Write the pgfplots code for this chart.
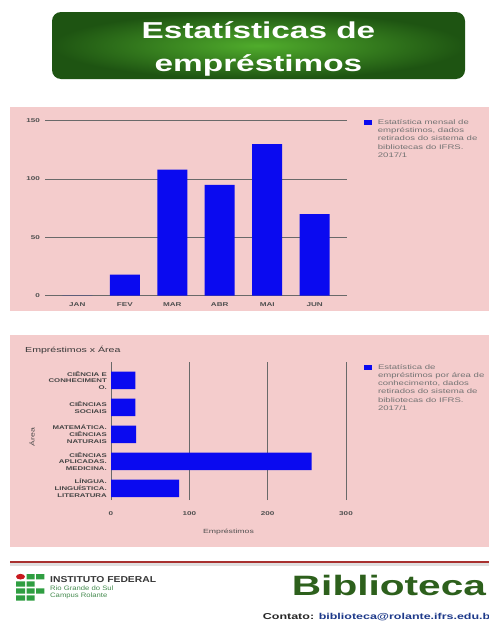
\documentclass[border=0pt]{standalone}
\usepackage{fontspec}
\setmainfont{Liberation Sans}[FakeStretch=1.45]
\newfontfamily\logofont{Liberation Sans}[FakeStretch=1.2]
\usepackage{pgfplots}
\pgfplotsset{compat=1.18}
\definecolor{panelpink}{RGB}{244,204,204}
\definecolor{barblue}{RGB}{10,10,240}
\definecolor{gridgray}{RGB}{105,105,105}
\definecolor{ticklabelgray}{RGB}{80,80,80}
\definecolor{catgray}{RGB}{70,70,70}
\definecolor{legendgray}{RGB}{115,115,115}
\definecolor{titlegray}{RGB}{55,55,55}
\definecolor{titleinner}{RGB}{80,172,44}
\definecolor{titleouter}{RGB}{30,84,18}
\definecolor{footred}{RGB}{168,49,47}
\definecolor{bibgreen}{RGB}{45,96,28}
\definecolor{emailblue}{RGB}{30,58,138}
\definecolor{contgray}{RGB}{40,40,40}
\definecolor{ifgreen}{RGB}{47,158,65}
\definecolor{ifred}{RGB}{200,25,30}
\definecolor{iftext}{RGB}{70,140,80}
\definecolor{ifgray}{RGB}{55,55,55}
\begin{document}
\begin{tikzpicture}[x=1pt,y=-1pt]
\useasboundingbox (0,0) rectangle (489,621);
\begin{scope}
\clip (0,0) rectangle (489,621);
\fill[white] (0,0) rectangle (489,621);
% title banner
\shade[rounded corners=9pt, inner color=titleinner, outer color=titleouter] (52,12) rectangle (465,79);
\node[anchor=base, inner sep=0pt, text=white, font=\bfseries\fontsize{23}{26}\selectfont] at (258.5,38) {Estatísticas de};
\node[anchor=base, inner sep=0pt, text=white, font=\bfseries\fontsize{23}{26}\selectfont] at (258.5,71) {empréstimos};
% panels
\fill[panelpink] (10,107) rectangle (489,311);
\fill[panelpink] (10,335) rectangle (489,547);

% top chart
\begin{axis}[
  at={(45pt,-295.7pt)}, anchor=south west,
  scale only axis, width=302pt, height=175pt,
  xmin=-0.68, xmax=5.68, ymin=0, ymax=150,
  ybar, bar width=30pt,
  xtick={0,1,2,3,4,5}, xticklabels={JAN,FEV,MAR,ABR,MAI,JUN},
  ytick={0,50,100,150},
  ymajorgrids, major grid style={draw=gridgray, line width=0.75pt},
  axis line style={draw=none}, major tick length=0pt,
  /pgf/number format/assume math mode=true,
  tick label style={font=\bfseries\fontsize{5.6}{6}\selectfont, text=ticklabelgray},
  xticklabel style={anchor=center, yshift=-8.5pt, inner sep=0pt},
  yticklabel style={anchor=east, xshift=-5pt, inner sep=0pt},
  legend style={at={(axis description cs:1.056,1.014)}, anchor=north west,
    draw=none, fill=none, inner sep=0pt, outer sep=0pt, row sep=0pt, column sep=6pt,
    font=\fontsize{6.6}{7}\selectfont, text=legendgray,
    nodes={inner sep=0pt, text height=6pt, text depth=2.3pt}},
  legend cell align=left,
]
\addplot[fill=barblue, draw=none,
  legend image code/.code={\fill[barblue] (0pt,-2.6pt) rectangle (8pt,2.6pt);}]
  coordinates {(0,0) (1,18) (2,108) (3,95) (4,130) (5,70)};
\addlegendentry{Estatística mensal de}
\addlegendimage{empty legend}\addlegendentry{empréstimos, dados}
\addlegendimage{empty legend}\addlegendentry{retirados do sistema de}
\addlegendimage{empty legend}\addlegendentry{bibliotecas do IFRS.}
\addlegendimage{empty legend}\addlegendentry{2017/1}
\end{axis}

% bottom chart
\begin{axis}[
  at={(111pt,-500pt)}, anchor=south west,
  scale only axis, width=235pt, height=138.3pt,
  xmin=0, xmax=300, ymin=-0.433, ymax=4.69,
  xbar, bar width=17.5pt,
  xtick={0,100,200,300}, ytick={0,1,2,3,4},
  yticklabels={{LÍNGUA.\\LINGUÍSTICA.\\LITERATURA},{CIÊNCIAS\\APLICADAS.\\MEDICINA.},{MATEMÁTICA.\\CIÊNCIAS\\NATURAIS},{CIÊNCIAS\\SOCIAIS},{CIÊNCIA E\\CONHECIMENT\\O.}},
  xmajorgrids, major grid style={draw=gridgray, line width=0.75pt},
  axis line style={draw=none}, major tick length=0pt,
  /pgf/number format/assume math mode=true,
  xticklabel style={font=\bfseries\fontsize{5.6}{6}\selectfont, text=ticklabelgray, anchor=center, yshift=-14pt, inner sep=0pt},
  yticklabel style={font=\bfseries\fontsize{5.4}{6.7}\selectfont, text=catgray, anchor=east, xshift=-4pt, inner sep=0pt, align=right},
  xlabel={Empréstimos},
  xlabel style={at={(axis description cs:0.5,-0.231)}, anchor=center, inner sep=0pt, font=\fontsize{6}{7}\selectfont, text=ticklabelgray},
  ylabel={Área},
  ylabel style={at={(axis description cs:-0.336,0.455)}, anchor=center, inner sep=0pt, font=\fontsize{6}{7}\selectfont, text=catgray},
  title={Empréstimos x Área},
  title style={at={(axis description cs:-0.366,1.037)}, anchor=west, inner sep=0pt, font=\fontsize{7.3}{8}\selectfont, text=titlegray},
  legend style={at={(axis description cs:1.0766,0.99)}, anchor=north west,
    draw=none, fill=none, inner sep=0pt, outer sep=0pt, row sep=0pt, column sep=6pt,
    font=\fontsize{6.6}{7}\selectfont, text=legendgray,
    nodes={inner sep=0pt, text height=6pt, text depth=2.3pt}},
  legend cell align=left,
]
\addplot[fill=barblue, draw=none,
  legend image code/.code={\fill[barblue] (0pt,-2.6pt) rectangle (8pt,2.6pt);}]
  coordinates {(87,0) (256,1) (32,2) (31,3) (31,4)};
\addlegendentry{Estatística de}
\addlegendimage{empty legend}\addlegendentry{empréstimos por área de}
\addlegendimage{empty legend}\addlegendentry{conhecimento, dados}
\addlegendimage{empty legend}\addlegendentry{retirados do sistema de}
\addlegendimage{empty legend}\addlegendentry{bibliotecas do IFRS.}
\addlegendimage{empty legend}\addlegendentry{2017/1}
\end{axis}

% footer
\fill[black!12] (10,563.2) rectangle (489,565.5);
\fill[footred] (10,560.5) rectangle (489,563.2);
\fill[ifred] (20.5,576.7) ellipse [x radius=4.5, y radius=2.8];
\fill[ifgreen] (26.7,574) rectangle (34.7,579.3) (36,574) rectangle (44.3,579.3)
  (16,581.3) rectangle (25,586.5) (26.7,581.3) rectangle (34.7,586.5)
  (16,588.3) rectangle (25,593.5) (26.7,588.3) rectangle (34.7,593.5) (36,588.3) rectangle (44.3,593.5)
  (16,595.3) rectangle (25,600.5) (26.7,595.3) rectangle (34.7,600.5);
\node[anchor=base west, inner sep=0pt, text=ifgray, font=\logofont\bfseries\fontsize{8.6}{9}\selectfont] at (50,582.5) {INSTITUTO FEDERAL};
\node[anchor=base west, inner sep=0pt, text=iftext, font=\logofont\fontsize{6.4}{7}\selectfont] at (50,590.5) {Rio Grande do Sul};
\node[anchor=base west, inner sep=0pt, text=iftext, font=\logofont\fontsize{6.4}{7}\selectfont] at (50,597.3) {Campus Rolante};
\node[anchor=base west, inner sep=0pt, text=bibgreen, font=\bfseries\fontsize{28}{30}\selectfont] at (291.7,595) {Biblioteca};
\node[anchor=base west, inner sep=0pt, font=\bfseries\fontsize{8.6}{9}\selectfont] at (262.7,619) {\textcolor{contgray}{Contato:} \textcolor{emailblue}{biblioteca@rolante.ifrs.edu.br}};
\end{scope}
\end{tikzpicture}
\end{document}
